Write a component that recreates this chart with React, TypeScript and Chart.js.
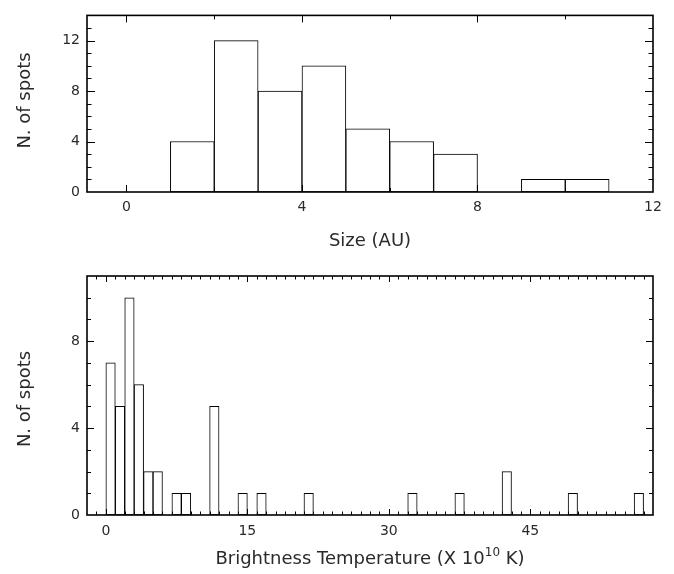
import React, { useEffect, useRef } from 'react';
import { Chart, registerables } from 'chart.js';

Chart.register(...registerables);

// ---------- Top panel: spot size histogram ----------
const sizeBinStarts = [0, 1, 2, 3, 4, 5, 6, 7, 8, 9, 10, 11];
const sizeCounts = [0, 4, 12, 8, 10, 5, 4, 3, 0, 1, 1, 0];
const sizeXTickLabels = [0, 4, 8, 12];
const sizeYTickLabels = [0, 4, 8, 12];

// ---------- Bottom panel: brightness temperature histogram ----------
const tempBinStarts = [0, 1, 2, 3, 4, 5, 7, 8, 11, 14, 16, 21, 32, 37, 42, 49, 56];
const tempCounts = [7, 5, 10, 6, 2, 2, 1, 1, 5, 1, 1, 1, 1, 1, 2, 1, 1];
const tempXTickLabels = [0, 15, 30, 45];
const tempYTickLabels = [0, 4, 8];

const BIN_WIDTH = 1;
const FONT = '"DejaVu Sans", sans-serif';
const TEXT_COLOR = '#2a2a2a';

function range(from: number, to: number, step: number): number[] {
  const out: number[] = [];
  for (let v = from; v <= to + 1e-9; v += step) out.push(Math.round(v * 1000) / 1000);
  return out;
}

const frameTicks = {
  id: 'frameTicks',
  afterDraw(chart: any, _args: any, opts: any) {
    const { ctx, chartArea: a, scales } = chart;
    const xs = scales.x;
    const ys = scales.y;
    ctx.save();
    ctx.strokeStyle = '#000';
    ctx.lineWidth = 1;
    ctx.beginPath();
    for (const t of xs.ticks) {
      const px = Math.round(xs.getPixelForValue(t.value)) + 0.5;
      if (px <= a.left + 1 || px >= a.right - 1) continue;
      const len = opts.xMajor.includes(t.value) ? opts.majorLen : opts.minorLen;
      ctx.moveTo(px, a.bottom);
      ctx.lineTo(px, a.bottom - len);
      ctx.moveTo(px, a.top);
      ctx.lineTo(px, a.top + len);
    }
    for (const t of ys.ticks) {
      const py = Math.round(ys.getPixelForValue(t.value)) + 0.5;
      if (py <= a.top + 1 || py >= a.bottom - 1) continue;
      const len = opts.yMajor.includes(t.value) ? opts.majorLen + 1 : opts.minorLen + 0.5;
      ctx.moveTo(a.left, py);
      ctx.lineTo(a.left + len, py);
      ctx.moveTo(a.right, py);
      ctx.lineTo(a.right - len, py);
    }
    ctx.stroke();
    ctx.lineWidth = 1.6;
    ctx.strokeRect(a.left, a.top, a.right - a.left, a.bottom - a.top);
    ctx.restore();
  },
};

const axisTitles = {
  id: 'axisTitles',
  afterDraw(chart: any, _args: any, opts: any) {
    const { ctx, chartArea: a } = chart;
    ctx.save();
    ctx.fillStyle = TEXT_COLOR;
    ctx.textBaseline = 'alphabetic';
    const mainFont = `${opts.size}px ${FONT}`;
    const supFont = `${opts.supSize}px ${FONT}`;
    // x title (with optional superscript parts)
    let total = 0;
    const widths = opts.xParts.map((p: any) => {
      ctx.font = p.sup ? supFont : mainFont;
      const w = ctx.measureText(p.text).width;
      total += w;
      return w;
    });
    let x = (a.left + a.right) / 2 - total / 2;
    ctx.textAlign = 'left';
    opts.xParts.forEach((p: any, i: number) => {
      ctx.font = p.sup ? supFont : mainFont;
      ctx.fillText(p.text, x, opts.xBaseline - (p.sup ? opts.supRise : 0));
      x += widths[i];
    });
    // y title, rotated
    ctx.font = mainFont;
    ctx.translate(opts.yBaseline, opts.yCenter);
    ctx.rotate(-Math.PI / 2);
    ctx.textAlign = 'center';
    ctx.fillText(opts.yText, 0, 0);
    ctx.restore();
  },
};

type Panel = {
  width: number;
  height: number;
  binStarts: number[];
  counts: number[];
  xMin: number;
  xMax: number;
  xStep: number;
  xLabels: number[];
  yMax: number;
  yLabels: number[];
  area: { left: number; right: number; top: number; bottom: number };
  xLabelPad: number;
  majorLen: number;
  minorLen: number;
  xParts: { text: string; sup?: boolean }[];
  xBaseline: number;
  yCenter: number;
};

function buildConfig(p: Panel): any {
  const points = p.binStarts.map((b, i) => ({ x: b + BIN_WIDTH / 2, y: p.counts[i] }));
  const tickFont = { family: FONT, size: 14 };
  return {
    type: 'bar',
    data: {
      datasets: [
        {
          data: points,
          backgroundColor: '#ffffff',
          borderColor: '#000000',
          borderWidth: 1,
          borderSkipped: false,
          barPercentage: 1,
          categoryPercentage: 1,
        },
      ],
    },
    options: {
      animation: false,
      responsive: false,
      devicePixelRatio: 1,
      events: [],
      layout: {
        padding: { left: 0, top: p.area.top, right: p.width - p.area.right, bottom: 0 },
      },
      plugins: {
        legend: { display: false },
        tooltip: { enabled: false },
        frameTicks: { xMajor: p.xLabels, yMajor: p.yLabels, majorLen: p.majorLen, minorLen: p.minorLen },
        axisTitles: {
          size: 18,
          supSize: 12,
          supRise: 8,
          xParts: p.xParts,
          xBaseline: p.xBaseline,
          yText: 'N. of spots',
          yBaseline: 30,
          yCenter: p.yCenter,
        },
      },
      scales: {
        x: {
          type: 'linear',
          bounds: 'data',
          min: p.xMin,
          max: p.xMax,
          offset: false,
          grid: { display: false, drawTicks: false },
          border: { display: false },
          ticks: {
            autoSkip: false,
            maxRotation: 0,
            padding: p.xLabelPad,
            font: tickFont,
            color: TEXT_COLOR,
            callback: (v: number) => (p.xLabels.includes(v) ? String(v) : ''),
          },
          afterBuildTicks: (s: any) => {
            s.ticks = range(Math.ceil(p.xMin / p.xStep) * p.xStep, p.xMax, p.xStep).map((v) => ({ value: v }));
          },
          afterFit: (s: any) => {
            s.height = p.height - p.area.bottom;
          },
        },
        y: {
          type: 'linear',
          bounds: 'data',
          min: 0,
          max: p.yMax,
          grid: { display: false, drawTicks: false },
          border: { display: false },
          ticks: {
            autoSkip: false,
            padding: 7,
            font: tickFont,
            color: TEXT_COLOR,
            callback: (v: number) => (p.yLabels.includes(v) ? String(v) : ''),
          },
          afterBuildTicks: (s: any) => {
            s.ticks = range(0, p.yMax, 1).map((v) => ({ value: v }));
          },
          afterFit: (s: any) => {
            s.width = p.area.left;
          },
        },
      },
    },
    plugins: [frameTicks, axisTitles],
  };
}

const topPanel: Panel = {
  width: 674,
  height: 250,
  binStarts: sizeBinStarts,
  counts: sizeCounts,
  xMin: -0.9,
  xMax: 12,
  xStep: 2,
  xLabels: sizeXTickLabels,
  yMax: 14,
  yLabels: sizeYTickLabels,
  area: { left: 87, right: 653, top: 9, bottom: 192 },
  xLabelPad: 7,
  majorLen: 7,
  minorLen: 4,
  xParts: [{ text: 'Size (AU)' }],
  xBaseline: 246,
  yCenter: 100.5,
};

const bottomPanel: Panel = {
  width: 674,
  height: 324,
  binStarts: tempBinStarts,
  counts: tempCounts,
  xMin: -2,
  xMax: 58,
  xStep: 1,
  xLabels: tempXTickLabels,
  yMax: 11,
  yLabels: tempYTickLabels,
  area: { left: 87, right: 653, top: 26, bottom: 265 },
  xLabelPad: 8,
  majorLen: 6,
  minorLen: 3.5,
  xParts: [
    { text: 'Brightness Temperature (X 10' },
    { text: '10', sup: true },
    { text: ' K)' },
  ],
  xBaseline: 314,
  yCenter: 149,
};

function HistPanel({ panel, top }: { panel: Panel; top: number }) {
  const ref = useRef<HTMLCanvasElement | null>(null);
  useEffect(() => {
    if (!ref.current) return;
    const chart = new Chart(ref.current, buildConfig(panel));
    return () => chart.destroy();
  }, [panel]);
  return (
    <canvas
      ref={ref}
      width={panel.width}
      height={panel.height}
      style={{ position: 'absolute', left: 0, top, width: panel.width, height: panel.height, display: 'block' }}
    />
  );
}

export default function App() {
  return (
    <div style={{ position: 'absolute', left: 0, top: 0, width: 674, height: 574, background: '#ffffff' }}>
      <HistPanel panel={topPanel} top={0} />
      <HistPanel panel={bottomPanel} top={250} />
    </div>
  );
}
